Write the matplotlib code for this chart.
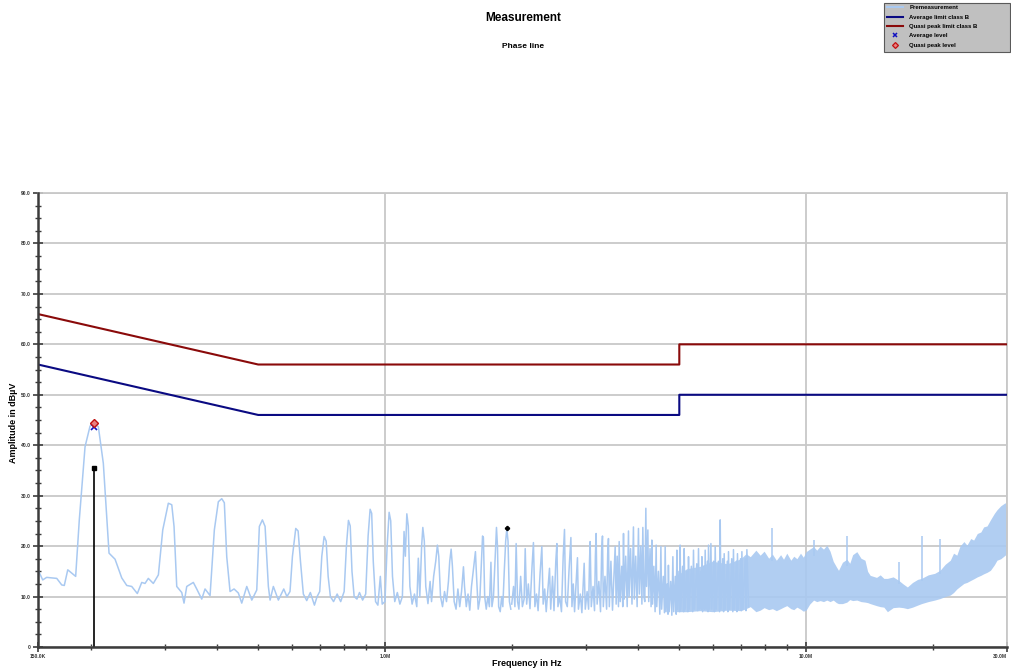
import matplotlib
matplotlib.use("Agg")
import matplotlib.pyplot as plt
from matplotlib.lines import Line2D
from matplotlib.patches import Rectangle
from matplotlib.ticker import FixedLocator, FixedFormatter, NullFormatter

plt.rcParams["font.family"] = ["Liberation Sans", "DejaVu Sans"]

# %%
# Data (frequency in MHz, level in dBuV)

# harmonics region 150 kHz .. 2 MHz
low_trace = [
    (0.1508, 14.9), (0.1539, 13.3), (0.1573, 13.8), (0.1662, 13.6), (0.1708, 12.3),
    (0.1732, 12.2), (0.1765, 15.3), (0.1843, 14.0), (0.1880, 25.2), (0.1940, 39.7),
    (0.1994, 43.8), (0.2030, 44.2), (0.2086, 43.7), (0.2144, 36.4), (0.2212, 18.6),
    (0.2286, 17.4), (0.2371, 13.7), (0.2437, 12.2), (0.2504, 12.0), (0.2582, 10.6),
    (0.2645, 12.8), (0.2693, 12.6), (0.2742, 13.6), (0.2818, 12.6), (0.2897, 14.3),
    (0.2967, 23.2), (0.3059, 28.5), (0.3117, 28.2), (0.3156, 23.9), (0.3203, 12.0),
    (0.3292, 10.8), (0.3333, 8.7), (0.3383, 12.0), (0.3507, 12.8), (0.3573, 11.5),
    (0.3672, 9.5), (0.3739, 11.5), (0.3843, 10.2), (0.3934, 23.2), (0.4021, 28.8),
    (0.4097, 29.4), (0.4155, 28.6), (0.4210, 17.9), (0.4287, 11.0), (0.4382, 11.5),
    (0.4486, 10.7), (0.4570, 8.7), (0.4697, 12.0), (0.4828, 9.3), (0.4961, 11.3),
    (0.5032, 23.9), (0.5116, 25.2), (0.5192, 23.9), (0.5286, 12.0), (0.5336, 9.3),
    (0.5432, 12.0), (0.5583, 9.3),
    (0.575, 11.5), (0.585, 10.0), (0.595, 11.0), (0.603, 18.0), (0.614, 23.5),
    (0.622, 23.0), (0.630, 17.0), (0.640, 10.5), (0.652, 9.2), (0.665, 10.8),
    (0.680, 8.3), (0.690, 10.0), (0.700, 11.0), (0.708, 18.0), (0.717, 21.9),
    (0.725, 21.0), (0.733, 14.0), (0.742, 10.0), (0.755, 9.0), (0.770, 10.5),
    (0.785, 9.0), (0.800, 11.0), (0.810, 20.0), (0.819, 25.1), (0.827, 24.0),
    (0.835, 15.0), (0.845, 10.0), (0.858, 9.5), (0.870, 10.8), (0.885, 9.3),
    (0.900, 10.5), (0.912, 22.0), (0.922, 27.3), (0.930, 26.5), (0.938, 17.0),
    (0.950, 9.0), (0.962, 8.3), (0.975, 14.0), (0.985, 8.5), (1.000, 9.0),
    (1.012, 20.0), (1.023, 26.7), (1.032, 25.0), (1.042, 14.0), (1.055, 9.0),
    (1.070, 10.8), (1.085, 8.5), (1.100, 10.0), (1.110, 22.9), (1.118, 18.0),
    (1.127, 26.4), (1.136, 24.0), (1.146, 12.0), (1.160, 8.5), (1.175, 10.5),
    (1.190, 8.0), (1.200, 17.6), (1.210, 10.0), (1.222, 20.0), (1.230, 23.7),
    (1.240, 21.0), (1.250, 12.0), (1.265, 8.6), (1.280, 13.0), (1.290, 9.0),
    (1.305, 14.0), (1.320, 17.0), (1.332, 20.2), (1.342, 18.0), (1.355, 10.0),
    (1.370, 8.0), (1.385, 11.0), (1.400, 9.0), (1.415, 13.0), (1.425, 17.0),
    (1.436, 19.4), (1.446, 16.0), (1.460, 9.0), (1.475, 7.5), (1.490, 11.5),
    (1.505, 8.0), (1.520, 11.0), (1.536, 15.9), (1.545, 12.0), (1.560, 8.0),
    (1.575, 10.5), (1.590, 7.3), (1.605, 12.0), (1.625, 16.0), (1.640, 18.9),
    (1.650, 14.0), (1.665, 7.5), (1.680, 9.5), (1.695, 17.0), (1.705, 22.0),
    (1.713, 21.7), (1.725, 10.0), (1.740, 7.5), (1.755, 10.0), (1.770, 8.0),
    (1.785, 16.8), (1.795, 8.0), (1.810, 10.0), (1.828, 18.0), (1.840, 23.7),
    (1.850, 20.0), (1.862, 8.0), (1.878, 7.0), (1.893, 10.0), (1.905, 8.0),
    (1.920, 15.0), (1.935, 21.0), (1.947, 23.4), (1.960, 21.0), (1.975, 9.0),
    (1.990, 7.5),
]

# spiky region 2 .. 7.3 MHz
mid_trace = [
    (2.00, 8.5), (2.02, 12.0), (2.035, 8.0), (2.049, 20.5), (2.065, 9.0), (2.08, 7.5),
    (2.10, 14.0), (2.12, 8.0), (2.14, 9.5), (2.153, 19.5), (2.17, 8.5), (2.19, 12.5),
    (2.21, 7.6), (2.235, 16.0), (2.252, 20.7), (2.27, 8.0), (2.29, 10.5), (2.31, 7.2),
    (2.335, 14.5), (2.358, 19.9), (2.375, 8.5), (2.395, 11.5), (2.415, 7.0), (2.44, 12.0),
    (2.459, 15.6), (2.475, 7.5), (2.50, 14.0), (2.52, 7.2), (2.545, 17.0), (2.560, 20.5),
    (2.575, 8.0), (2.60, 10.0), (2.625, 7.0), (2.65, 18.0), (2.669, 23.3), (2.685, 9.0),
    (2.71, 8.0), (2.735, 15.0), (2.764, 21.7), (2.78, 8.0), (2.80, 12.5), (2.82, 7.0),
    (2.845, 13.0), (2.865, 17.7), (2.88, 7.5), (2.91, 10.5), (2.935, 6.8), (2.955, 12.0),
    (2.972, 16.6), (2.99, 7.5), (3.02, 11.0), (3.045, 7.5), (3.06, 17.0), (3.071, 20.9),
    (3.09, 8.0), (3.12, 12.0), (3.145, 7.2), (3.16, 18.0), (3.173, 22.5), (3.19, 8.5),
    (3.22, 13.0), (3.25, 7.0), (3.27, 19.0), (3.285, 22.0), (3.30, 8.0), (3.33, 14.0),
    (3.36, 7.5), (3.38, 18.5), (3.394, 21.5), (3.41, 8.0), (3.44, 17.0), (3.47, 7.3),
    (3.50, 15.0), (3.521, 19.9), (3.54, 8.5), (3.56, 18.0), (3.585, 8.0), (3.599, 20.9),
    (3.62, 9.0), (3.65, 16.0), (3.67, 8.0), (3.685, 22.5), (3.70, 9.5), (3.73, 18.0),
    (3.76, 8.0), (3.787, 23.0), (3.80, 10.0), (3.83, 19.5), (3.86, 8.5), (3.891, 23.8),
    (3.91, 9.5), (3.94, 18.0), (3.97, 8.0), (3.999, 23.5), (4.02, 10.5), (4.05, 20.0),
    (4.075, 8.5), (4.096, 23.7), (4.12, 10.0), (4.14, 9.0), (4.164, 27.5), (4.18, 12.0),
    (4.21, 23.2), (4.23, 9.0), (4.26, 19.5), (4.285, 8.0), (4.303, 21.2), (4.32, 8.5),
    (4.35, 16.0), (4.38, 7.0), (4.406, 20.2), (4.42, 8.0), (4.46, 15.0), (4.495, 6.5),
    (4.521, 19.9), (4.54, 7.5), (4.58, 14.0), (4.61, 6.8), (4.628, 19.9), (4.65, 7.0),
    (4.68, 12.5), (4.70, 6.5), (4.711, 16.2), (4.73, 7.0), (4.77, 13.0), (4.80, 6.3),
    (4.827, 17.9), (4.85, 7.0), (4.89, 14.0), (4.915, 6.5), (4.934, 19.2), (4.95, 7.5),
    (4.99, 15.0), (5.01, 7.0), (5.023, 20.2), (5.04, 7.5), (5.09, 16.0), (5.12, 7.0),
    (5.135, 19.5), (5.16, 7.5), (5.21, 15.0), (5.24, 7.0), (5.258, 17.9), (5.28, 7.5),
    (5.34, 16.0), (5.38, 7.0), (5.403, 19.2), (5.43, 7.5), (5.50, 16.5), (5.53, 7.2),
    (5.553, 19.5), (5.58, 7.5), (5.62, 15.0), (5.64, 7.5), (5.658, 17.9), (5.68, 7.0),
    (5.72, 16.0), (5.74, 7.5), (5.760, 19.2), (5.79, 7.5), (5.83, 17.0), (5.85, 7.0),
    (5.865, 20.2), (5.90, 7.5), (5.943, 20.5), (5.97, 7.5), (6.03, 17.0), (6.06, 7.0),
    (6.084, 19.9), (6.12, 7.5), (6.19, 17.0), (6.23, 7.0), (6.253, 25.2), (6.28, 7.5),
    (6.34, 17.5), (6.37, 7.0), (6.391, 18.5), (6.43, 7.5), (6.50, 17.0), (6.52, 7.0),
    (6.543, 18.9), (6.58, 7.5), (6.66, 17.5), (6.70, 7.0), (6.723, 19.3), (6.76, 7.5),
    (6.83, 17.0), (6.85, 7.0), (6.872, 18.5), (6.91, 7.5), (6.99, 17.5), (7.02, 7.2),
    (7.040, 18.9), (7.08, 7.5), (7.17, 17.5), (7.20, 7.2), (7.235, 19.3), (7.30, 8.0),
]

# dense region above ~5 MHz: (freq, lower envelope, upper envelope)
band_trace = [
    (4.9, 7.0, 14.0), (5.2, 7.0, 15.5), (5.6, 7.2, 16.0), (6.0, 7.0, 17.0), (6.5, 7.3, 16.5),
    (7.0, 7.2, 17.5), (7.2, 7.6, 18.5), (7.37, 8.0, 17.9), (7.6, 7.0, 19.2), (7.78, 7.3, 18.2),
    (7.95, 7.8, 19.0), (8.15, 7.4, 17.6), (8.32, 7.6, 18.4), (8.5, 7.2, 17.2), (8.7, 7.6, 18.3),
    (8.84, 7.9, 17.4), (9.0, 8.2, 18.6), (9.2, 7.6, 17.2), (9.35, 7.4, 18.0), (9.51, 7.9, 17.5),
    (9.7, 7.5, 18.6), (9.85, 7.1, 17.8), (10.0, 7.3, 18.9), (10.2, 8.5, 19.4), (10.42, 9.3, 19.9),
    (10.6, 9.0, 19.2), (10.8, 9.2, 20.0), (11.0, 9.0, 19.4), (11.2, 9.3, 20.2), (11.4, 9.0, 19.0),
    (11.6, 9.3, 17.0), (11.8, 8.8, 15.9), (11.94, 8.6, 15.2), (12.2, 8.6, 16.8), (12.5, 8.9, 17.4),
    (12.7, 9.4, 16.6), (12.9, 9.2, 18.3), (13.2, 9.3, 18.9), (13.5, 9.0, 17.6), (13.8, 8.9, 17.2),
    (14.0, 8.8, 15.0), (14.2, 8.6, 14.2), (14.7, 8.2, 13.8), (15.0, 8.0, 14.3), (15.3, 7.9, 13.6),
    (15.6, 7.0, 13.6), (16.1, 7.8, 13.9), (16.6, 7.9, 13.2), (17.0, 7.8, 12.5), (17.4, 7.6, 11.9),
    (17.9, 7.9, 12.8), (18.4, 8.3, 13.4), (18.8, 8.6, 13.6), (19.5, 9.0, 14.3), (20.2, 9.3, 14.6),
    (20.8, 9.6, 15.2), (21.4, 10.0, 16.4), (22.0, 10.3, 17.2), (22.4, 10.8, 18.6), (22.8, 11.5, 18.2),
    (23.2, 12.0, 20.0), (23.7, 12.6, 20.9), (24.1, 12.8, 20.2), (24.6, 13.2, 21.5), (25.0, 13.5, 21.2),
    (25.5, 13.9, 22.5), (26.0, 14.2, 22.8), (26.4, 14.5, 23.8), (26.9, 14.8, 24.0), (27.4, 15.2, 25.2),
    (28.0, 16.3, 26.5), (28.4, 17.2, 27.2), (29.0, 17.5, 28.0), (29.7, 18.2, 28.6), (30.0, 18.5, 27.8),
]

# isolated spikes above the band: (freq, base, top)
band_spikes = [
    (8.32, 17.0, 23.5), (10.42, 18.0, 21.3), (12.5, 16.0, 22.0), (16.6, 12.5, 16.9),
    (18.8, 13.0, 22.0), (20.8, 14.5, 21.5),
]

# CISPR 22 class B limits
avg_limit_freq = [0.15, 0.5, 5.0, 5.0, 30.0]
avg_limit_level = [56, 46, 46, 50, 50]
qp_limit_freq = [0.15, 0.5, 5.0, 5.0, 30.0]
qp_limit_level = [66, 56, 56, 60, 60]

# final measurement
final_freq = [0.2035]
final_avg = [43.6]
final_qp = [44.4]
marker_freq = 0.2035
marker_level = 35.4
spot_freq = 1.952
spot_level = 23.6

x_ticks = [0.15, 1.0, 10.0, 30.0]
x_tick_labels = ["150.0K", "1.0M", "10.0M", "30.0M"]
x_minor = [0.2, 0.3, 0.4, 0.5, 0.6, 0.7, 0.8, 0.9,
           2, 3, 4, 5, 6, 7, 8, 9, 20]
y_ticks = [0, 10, 20, 30, 40, 50, 60, 70, 80, 90]
y_tick_labels = ["0", "10.0", "20.0", "30.0", "40.0", "50.0", "60.0", "70.0", "80.0", "90.0"]
y_minor = [v + d for v in range(0, 90, 10) for d in (2.5, 5.0, 7.5)]

MHZ = 1e6
trace_col = "#a9c9f1"
avg_col = "#0a0a82"
qp_col = "#8a0a0a"
grid_col = "#c8c8c8"
axis_col = "#3c3c3c"

# %%
# Figure

fig = plt.figure(figsize=(10.12, 6.69), dpi=100)
ax = fig.add_axes([38 / 1012, 22 / 669, 969 / 1012, 454 / 669])
ax.set_xscale("log")
ax.set_xlim(0.15 * MHZ, 30 * MHZ)
ax.set_ylim(0, 90)

lf, ll = zip(*low_trace)
mf, ml = zip(*mid_trace)
bf, blo, bhi = zip(*band_trace)
sf, sb, st = zip(*band_spikes)

ax.fill_between([f * MHZ for f in bf], blo, bhi, color=trace_col, alpha=0.9, lw=0, zorder=2)
ax.plot([f * MHZ for f in lf], ll, color=trace_col, lw=1.1, zorder=3)
ax.plot([f * MHZ for f in mf], ml, color=trace_col, lw=1.1, zorder=3)
ax.vlines([f * MHZ for f in sf], sb, st, color=trace_col, lw=1.1, zorder=3)

ax.plot([f * MHZ for f in avg_limit_freq], avg_limit_level, color=avg_col, lw=1.5, zorder=4)
ax.plot([f * MHZ for f in qp_limit_freq], qp_limit_level, color=qp_col, lw=1.5, zorder=4)

ax.vlines(marker_freq * MHZ, 0, marker_level, color="black", lw=1.2, zorder=5)
ax.plot(marker_freq * MHZ, marker_level, "s", color="black", ms=2.2, zorder=5)
ax.plot(spot_freq * MHZ, spot_level, "P", color="black", ms=2.8, zorder=5)

ax.plot([f * MHZ for f in final_freq], final_avg, "x", color="#1010c0", ms=4, mew=1.2, zorder=6)
ax.plot([f * MHZ for f in final_freq], final_qp, "D", mfc="#e88080", mec="#c01010",
        ms=3.8, mew=1.0, zorder=6)

# axes styling
ax.xaxis.set_major_locator(FixedLocator([f * MHZ for f in x_ticks]))
ax.xaxis.set_major_formatter(FixedFormatter(x_tick_labels))
ax.xaxis.set_minor_locator(FixedLocator([f * MHZ for f in x_minor]))
ax.xaxis.set_minor_formatter(NullFormatter())
ax.yaxis.set_major_locator(FixedLocator(y_ticks))
ax.yaxis.set_major_formatter(FixedFormatter(y_tick_labels))
ax.yaxis.set_minor_locator(FixedLocator(y_minor))

ax.tick_params(which="major", direction="inout", length=7, width=1.2, color=axis_col,
               labelsize=3.6, pad=1.5)
ax.tick_params(which="minor", direction="inout", length=5, width=1.0, color=axis_col)
for lab in ax.get_xticklabels() + ax.get_yticklabels():
    lab.set_fontweight("bold")
    lab.set_color("#333333")
ax.get_xticklabels()[-1].set_horizontalalignment("right")

ax.grid(True, which="major", color=grid_col, lw=1.3)
ax.set_axisbelow(True)
for side in ("left", "bottom"):
    ax.spines[side].set_color(axis_col)
    ax.spines[side].set_linewidth(1.8)
    ax.spines[side].set_zorder(7)
for side in ("top", "right"):
    ax.spines[side].set_color(grid_col)
    ax.spines[side].set_linewidth(1.3)

# texts
fig.text(523 / 1012, 1 - 18 / 669, "Measurement", ha="center", va="center",
         fontsize=8.5, fontweight="bold")
fig.text(523 / 1012, 1 - 47 / 669, "Phase line", ha="center", va="center",
         fontsize=6, fontweight="bold")
fig.text(14 / 1012, 1 - 423 / 669, "Amplitude in dBµV", ha="center", va="center",
         rotation=90, fontsize=6.5, fontweight="bold")
fig.text(527 / 1012, 1 - 663 / 669, "Frequency in Hz", ha="center", va="center",
         fontsize=6.5, fontweight="bold")

# legend box
fig.patches.append(Rectangle((884 / 1012, 1 - 52 / 669), 126 / 1012, 49 / 669,
                             transform=fig.transFigure, facecolor="#c0c0c0",
                             edgecolor="#5a5a5a", lw=0.8, zorder=0))
handles = [
    Line2D([], [], color=trace_col, lw=1.5),
    Line2D([], [], color=avg_col, lw=1.5),
    Line2D([], [], color=qp_col, lw=1.5),
    Line2D([], [], ls="", marker="x", color="#1010c0", ms=3.5, mew=1.1),
    Line2D([], [], ls="", marker="D", mfc="#e88080", mec="#c01010", ms=3, mew=0.9),
]
labels = ["Premeasurement", "Average limit class B", "Quasi peak limit class B",
          "Average level", "Quasi peak level"]
leg = fig.legend(handles, labels, loc="upper left", bbox_to_anchor=(885 / 1012, 1 - 3 / 669),
                 prop={"size": 4.3, "weight": "bold"}, frameon=False,
                 handlelength=2.6, handletextpad=1.1, labelspacing=0.7,
                 borderpad=0.35, borderaxespad=0)

fig.savefig("out.png", dpi=100)
